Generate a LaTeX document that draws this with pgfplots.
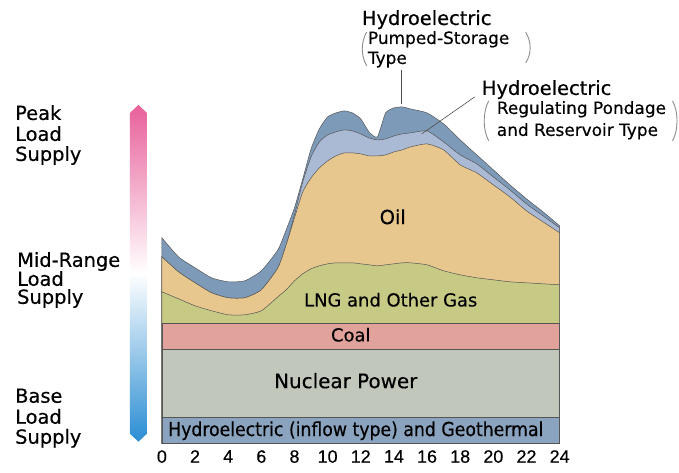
\documentclass[border=0pt]{standalone}
\usepackage{pgfplots}
\pgfplotsset{compat=1.18}
\usepackage{fontspec}
\setmainfont{DejaVu Sans}[FakeBold=0.4]
\newfontfamily\libsans{Liberation Sans}[FakeBold=0.4]
\newfontfamily\cond{DejaVu Sans Condensed}[FakeBold=0.4]
\definecolor{ps}{HTML}{7D9BB9}
\definecolor{lb}{HTML}{AAB9D4}
\definecolor{oil}{HTML}{E7C78E}
\definecolor{lng}{HTML}{C7CA84}
\definecolor{coal}{HTML}{E2A29C}
\definecolor{nuc}{HTML}{C1C8BB}
\definecolor{hyd}{HTML}{8AA3BF}
\definecolor{pk}{HTML}{E8609A}
\definecolor{bl}{HTML}{2A8DD3}
\definecolor{edge}{HTML}{555555}
\newcommand{\fs}[1]{\fontsize{#1}{#1}\selectfont}
\begin{document}
\begin{tikzpicture}
\begin{axis}[
  at={(162bp,-444bp)}, anchor=south west,
  scale only axis, width=398bp, height=344bp,
  xmin=0, xmax=24, ymin=0, ymax=344,
  axis line style={draw=none},
  ytick=\empty,
  xtick={0,2,...,24},
  major tick length=0pt,
  xticklabel style={font=\libsans\fs{18}, yshift=-3bp},
  /pgf/number format/assume math mode=true,
  clip=false,
]
% outer top (pumped-storage)
\addplot[fill=ps, draw=edge, line width=0.5pt, smooth, tension=0.35] coordinates {
(0,206) (1,187) (2,176) (3,166) (4,162) (5,163) (6,173) (7,194) (7.5,214) (8,236) (8.5,265) (9,295) (9.5,315) (10,327) (10.5,331) (11,333) (11.5,331) (12,325) (12.5,312) (13,307) (13.5,331) (14,336) (14.5,337) (15,335) (16,331) (17,320) (18,304) (19,289) (20,274) (21,259) (22,245) (23,232) (24,218)
} \closedcycle;
% regulating pondage top
\addplot[fill=lb, draw=edge, line width=0.5pt, smooth, tension=0.35] coordinates {
(0,187) (1,172) (2,161) (3,151) (4,146) (5,146) (6,154) (7,176) (7.5,199) (8,229) (8.5,262) (9,287) (9.5,302) (10,309) (10.5,312) (11,314) (11.5,313) (12,310) (12.5,306) (13,304) (13.5,305) (14,308) (14.5,310) (15,311) (16,313) (17,302) (18,289) (19,280) (20,267) (21,254) (22,240) (23,228) (24,216)
} \closedcycle;
% oil top
\addplot[fill=oil, draw=edge, line width=0.5pt, smooth, tension=0.35] coordinates {
(0,187) (1,172) (2,161) (3,151) (4,146) (5,146) (6,154) (7,176) (7.5,199) (8,226) (8.5,252) (9,266) (9.5,276) (10,283) (10.5,288) (11,291) (11.5,291) (12,290) (12.5,288) (13,288) (13.5,289) (14,292) (14.5,294) (15,297) (16,300) (17,294) (18,279) (19,271) (20,259) (21,247) (22,233) (23,222) (24,211)
} \closedcycle;
% LNG top
\addplot[fill=lng, draw=edge, line width=0.5pt, smooth, tension=0.35] coordinates {
(0,152) (1,145) (2,138) (3,133) (4,129) (5,129) (6,133) (7,147) (7.5,154) (8,163) (8.5,170) (9,175) (9.5,178) (10,180) (10.5,181) (11,181) (11.5,181) (12,180) (12.5,179) (13,178) (13.5,179) (14,180) (14.5,181) (15,181) (16,179) (17,173) (18,169) (19,166) (20,164) (21,162) (22,161) (23,160) (24,159)
} \closedcycle;
% coal top
\addplot[fill=coal, draw=edge, line width=0.5pt] coordinates {(0,121) (24,121)} \closedcycle;
% nuclear top
\addplot[fill=nuc, draw=edge, line width=0.5pt] coordinates {(0,95) (24,95)} \closedcycle;
% hydro inflow top
\addplot[fill=hyd, draw=edge, line width=0.5pt] coordinates {(0,26) (24,26)} \closedcycle;
\end{axis}
\begin{scope}[x=1bp,y=-1bp]
\path (0,0) rectangle (679,473);
% gradient arrow
\shade[top color=pk, bottom color=bl, middle color=white] (130,113) -- (138.5,105) -- (147,113) -- (147,434) -- (138.5,442) -- (130,434) -- cycle;
% left labels
\begin{scope}[every node/.style={anchor=base west, inner sep=0pt, font=\fs{19.5}}]
\node at (15,120) {Peak};
\node at (15,141) {Load};
\node at (15,161) {Supply};
\node at (17,267) {Mid-Range};
\node at (17,286) {Load};
\node at (17,304) {Supply};
\node at (15,403) {Base};
\node at (15,424) {Load};
\node at (15,444) {Supply};
\end{scope}
% chart labels
\node[font=\fs{19.5}] at (393,217) {Oil};
\node[font=\fs{18}] at (391,300) {LNG and Other Gas};
\node[font=\fs{18}] at (351,335) {Coal};
\node[font=\fs{20}] at (346,381) {Nuclear Power};
\node[font=\cond\fs{19.3}] at (356,431) {Hydroelectric (inflow type) and Geothermal};
% annotations
\begin{scope}[every node/.style={anchor=base west, inner sep=0pt}]
\node[font=\fs{19.5}] at (362,25) {Hydroelectric};
\node[font=\fs{17}] at (368,44) {Pumped-Storage};
\node[font=\fs{17}] at (368,64) {Type};
\node[font=\fs{19.5}] at (482,95) {Hydroelectric};
\node[font=\fs{17}] at (497,114) {Regulating Pondage};
\node[font=\fs{17}] at (497,136) {and Reservoir Type};
\end{scope}
\draw[black!70, line width=0.6pt] (402,70) -- (402,104);
\draw[black!70, line width=0.6pt] (475,97) -- (422,134);
\draw[black!45, line width=0.9pt] (367,32) .. controls (361,42) and (361,56) .. (367,66);
\draw[black!45, line width=0.9pt] (526,32) .. controls (532,42) and (532,54) .. (526,63);
\draw[black!45, line width=0.9pt] (489,101) .. controls (483,112) and (483,130) .. (489,141);
\draw[black!45, line width=0.9pt] (673,101) .. controls (679,112) and (679,130) .. (673,141);
\end{scope}
\end{tikzpicture}
\end{document}
